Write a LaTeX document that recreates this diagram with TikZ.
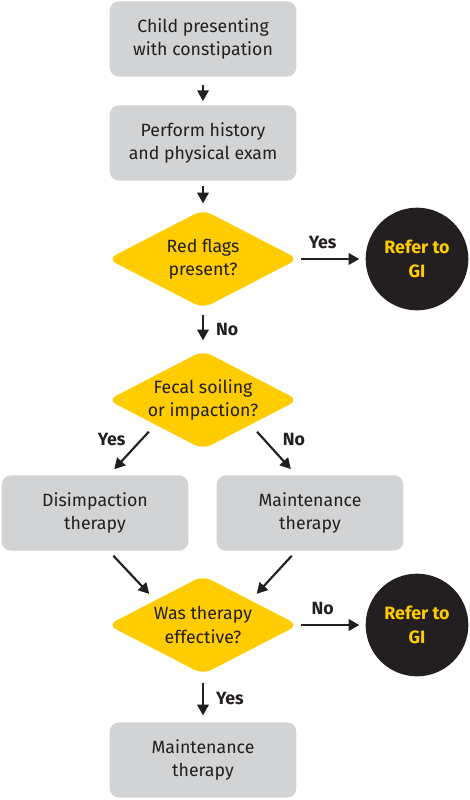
\documentclass[tikz,border=0pt]{standalone}
\usepackage{fontspec}
\setmainfont{Fira Sans}
\usetikzlibrary{shapes.geometric, arrows.meta}
\definecolor{boxgray}{HTML}{D1D3D4}
\definecolor{flagyellow}{HTML}{FFCC00}
\definecolor{ink}{HTML}{231F20}

\begin{document}
\begin{tikzpicture}[x=0.75pt, y=-0.75pt,
    box/.style={rectangle, rounded corners=7pt, fill=boxgray, minimum width=140pt, minimum height=56.5pt, align=center, text=ink, font=\fontsize{13.3}{17.5}\selectfont},
    ask/.style={diamond, rounded corners=7pt, fill=flagyellow, aspect=1.94, minimum width=143pt, minimum height=74pt, inner sep=0pt, align=center, text=ink, font=\fontsize{13.3}{17.5}\selectfont},
    refer/.style={circle, fill=ink, minimum size=77pt, inner sep=0pt, align=center, text=flagyellow, font=\bfseries\fontsize{13.4}{17.5}\selectfont},
    flow/.style={draw=ink, line width=1.6pt, -{Triangle[length=8pt, width=8.5pt]}},
    tag/.style={inner sep=1pt, text=ink, font=\bfseries\fontsize{13.3}{15}\selectfont}]
    \useasboundingbox (0, 0) rectangle (470, 800);

    \node[box] (child) at (203, 39) {Child presenting\\with constipation};
    \node[box] (exam) at (203, 143) {Perform history\\and physical exam};
    \node[ask] (flags) at (203, 259) {Red flags\\present?};
    \node[refer] (gi1) at (417, 259) {Refer to\\GI};
    \node[ask] (soil) at (203, 400) {Fecal soiling\\or impaction?};
    \node[box] (disimp) at (95, 513) {Disimpaction\\therapy};
    \node[box] (maint1) at (310, 513) {Maintenance\\therapy};
    \node[ask] (works) at (203, 625) {Was therapy\\effective?};
    \node[refer] (gi2) at (417, 625) {Refer to\\GI};
    \node[box] (maint2) at (203, 760) {Maintenance\\therapy};

    % Draw the edges between nodes
    \draw[flow, shorten <=6pt, shorten >=3pt] (child) -- (exam);
    \draw[flow, shorten <=4pt, shorten >=4.5pt] (exam) -- (flags);
    \draw[flow, shorten <=1.5pt, shorten >=4.5pt] (flags.east) -- node[tag, pos=0.36, above=6pt] {Yes} (gi1.west);
    \draw[flow, shorten <=5pt, shorten >=7.5pt] (flags.south) -- node[tag, right=8pt] {No} (soil.north);
    \draw[flow, shorten <=7pt, shorten >=6pt] (soil.south west) -- node[tag, pos=0.3, left=10pt] {Yes} (disimp.70);
    \draw[flow, shorten <=7pt, shorten >=6pt] (soil.south east) -- node[tag, pos=0.3, right=12pt] {No} (maint1.110);
    \draw[flow, shorten <=5pt, shorten >=6.5pt] (disimp.290) -- (works.north west);
    \draw[flow, shorten <=5pt, shorten >=6.5pt] (maint1.250) -- (works.north east);
    \draw[flow, shorten <=1.5pt, shorten >=4.5pt] (works.east) -- node[tag, pos=0.36, above=6pt] {No} (gi2.west);
    \draw[flow, shorten <=6pt, shorten >=5pt] (works.south) -- node[tag, right=8pt] {Yes} (maint2.north);
\end{tikzpicture}
\end{document}
